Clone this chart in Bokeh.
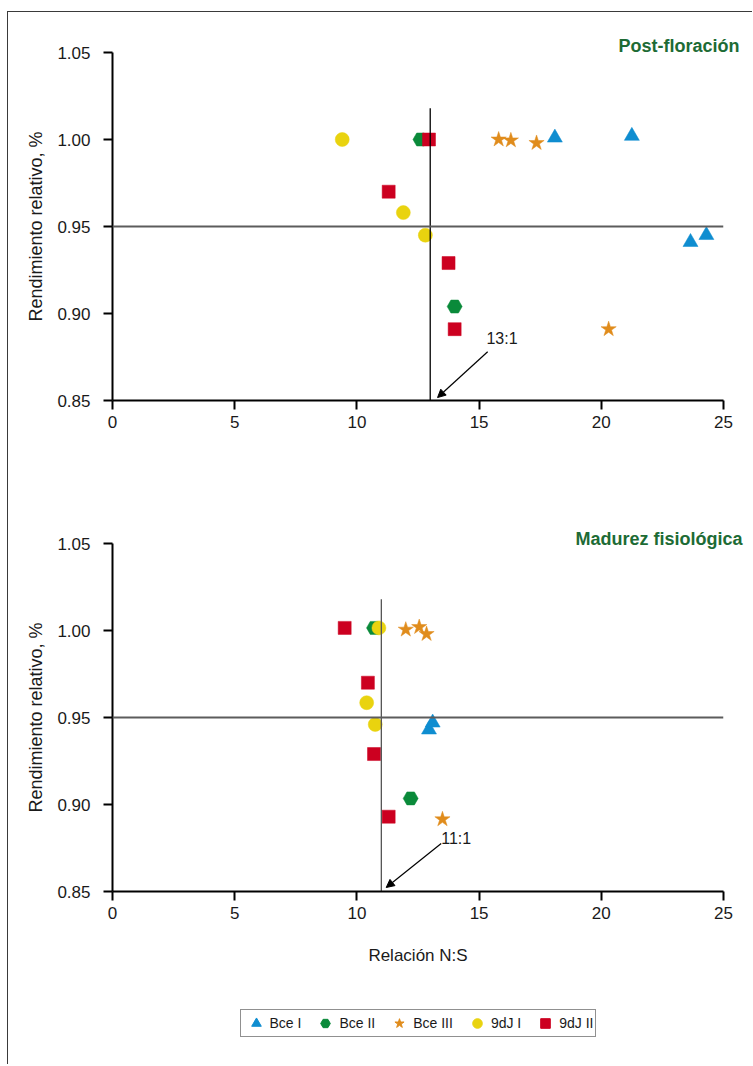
from bokeh.plotting import figure
from bokeh.layouts import column
from bokeh.models import (Span, Label, Arrow, NormalHead, FixedTicker, Legend,
                          LegendItem, PrintfTickFormatter, Range1d, Title)
from bokeh.embed import file_html
from bokeh.resources import INLINE

# ---------------- data ----------------
series_names = ["Bce I", "Bce II", "Bce III", "9dJ I", "9dJ II"]
series_markers = ["triangle", "hex", "star", "circle", "square"]
series_colors = ["#0f8dd0", "#0a8a3a", "#e08c1c", "#e9d30f", "#cc0020"]

# Post-floración
pf_bce1_x = [18.1, 21.25, 23.65, 24.3]
pf_bce1_y = [1.001, 1.002, 0.941, 0.945]
pf_bce2_x = [12.6, 14.0]
pf_bce2_y = [1.000, 0.904]
pf_bce3_x = [15.8, 16.3, 17.35, 20.3]
pf_bce3_y = [1.000, 0.9995, 0.998, 0.891]
pf_9dj1_x = [9.4, 11.9, 12.8]
pf_9dj1_y = [1.000, 0.958, 0.945]
pf_9dj2_x = [12.95, 11.3, 13.75, 14.0]
pf_9dj2_y = [1.000, 0.970, 0.929, 0.891]

# Madurez fisiológica
mf_bce1_x = [12.95, 13.1]
mf_bce1_y = [0.943, 0.947]
mf_bce2_x = [10.7, 12.2]
mf_bce2_y = [1.0015, 0.9035]
mf_bce3_x = [12.0, 12.55, 12.85, 13.5]
mf_bce3_y = [1.0005, 1.002, 0.998, 0.8915]
mf_9dj1_x = [10.9, 10.4, 10.75]
mf_9dj1_y = [1.0015, 0.9585, 0.946]
mf_9dj2_x = [9.5, 10.45, 10.7, 11.3]
mf_9dj2_y = [1.0015, 0.970, 0.929, 0.893]

x_ticks = [0, 5, 10, 15, 20, 25]
y_ticks = [0.85, 0.90, 0.95, 1.00, 1.05]
yield_threshold = 0.95
ratio_thresholds = [13, 11]
ratio_labels = ["13:1", "11:1"]
panel_titles = ["Post-floración", "Madurez fisiológica"]
x_label = "Relación N:S"
y_label = "Rendimiento relativo, %"

FONT = "Liberation Sans"
marker_sizes = {"triangle": 15, "hex": 15, "star": 16, "circle": 14, "square": 13}

pf_data = [(pf_bce1_x, pf_bce1_y), (pf_bce2_x, pf_bce2_y), (pf_bce3_x, pf_bce3_y),
           (pf_9dj1_x, pf_9dj1_y), (pf_9dj2_x, pf_9dj2_y)]
mf_data = [(mf_bce1_x, mf_bce1_y), (mf_bce2_x, mf_bce2_y), (mf_bce3_x, mf_bce3_y),
           (mf_9dj1_x, mf_9dj1_y), (mf_9dj2_x, mf_9dj2_y)]

W = 744
ML = 104              # left border -> frame at page x = 112
FW = 611              # frame width
MR = W - ML - FW


def make_panel(data, title, threshold, ratio_label, height, top, bottom,
               show_xlabel, title_offset, title_standoff, lab_xy, arrow_xy, vline_color):
    p = figure(width=W, height=height, output_backend="svg", toolbar_location=None,
               x_range=Range1d(0, 25), y_range=Range1d(0.85, 1.05),
               min_border_left=ML, min_border_right=MR,
               min_border_top=top, min_border_bottom=bottom)
    p.outline_line_color = None
    p.grid.visible = False
    p.background_fill_color = "white"
    p.border_fill_color = "white"

    p.title = Title(text=title, align="right", offset=title_offset, standoff=title_standoff,
                    text_font=FONT, text_font_size="18px", text_font_style="bold",
                    text_color="#1d6b35")

    for ax in (p.xaxis[0], p.yaxis[0]):
        ax.axis_line_color = "black"
        ax.axis_line_width = 2
        ax.major_tick_line_color = "black"
        ax.major_tick_line_width = 2
        ax.major_tick_out = 9
        ax.major_tick_in = 0
        ax.minor_tick_line_color = None
        ax.major_label_text_font = FONT
        ax.major_label_text_font_size = "17px"
        ax.major_label_text_color = "#1a1a1a"
        ax.axis_label_text_font = FONT
        ax.axis_label_text_font_style = "normal"
        ax.axis_label_text_color = "#1a1a1a"

    p.xaxis.ticker = FixedTicker(ticks=x_ticks)
    p.yaxis.ticker = FixedTicker(ticks=y_ticks)
    p.yaxis.formatter = PrintfTickFormatter(format="%.2f")
    p.xaxis.major_label_standoff = 6
    p.yaxis.major_label_standoff = 13
    p.yaxis.axis_label = y_label
    p.yaxis.axis_label_text_font_size = "18px"
    p.yaxis.axis_label_standoff = 8
    if show_xlabel:
        p.xaxis.axis_label = x_label
        p.xaxis.axis_label_text_font_size = "17px"
        p.xaxis.axis_label_standoff = 24

    p.add_layout(Span(location=yield_threshold, dimension="width",
                      line_color="#5c5c5c", line_width=2))

    renderers = []
    for (xs, ys), name, mk, col in zip(data, series_names, series_markers, series_colors):
        r = p.scatter(xs, ys, marker=mk, size=marker_sizes[mk],
                      fill_color=col, line_color=col, line_width=0.5)
        renderers.append(r)

    p.segment(x0=[threshold], y0=[0.85], x1=[threshold], y1=[1.018],
              line_color=vline_color, line_width=1.3)

    p.add_layout(Arrow(end=NormalHead(size=8, fill_color="black", line_color="black"),
                       x_start=arrow_xy[0], y_start=arrow_xy[1],
                       x_end=arrow_xy[2], y_end=arrow_xy[3],
                       line_color="black", line_width=1.2))
    p.add_layout(Label(x=lab_xy[0], y=lab_xy[1], text=ratio_label,
                       text_font=FONT, text_font_size="16px", text_color="#1a1a1a",
                       text_align="left", text_baseline="middle"))
    return p, renderers


H1, H2, H3 = 466, 512, 74
p1, _ = make_panel(pf_data, panel_titles[0], ratio_thresholds[0], ratio_labels[0],
                   height=H1, top=40, bottom=H1 - 40 - 348, show_xlabel=False,
                   title_offset=-16, title_standoff=-6,
                   lab_xy=(15.3, 0.8856), arrow_xy=(15.35, 0.878, 13.3, 0.8517),
                   vline_color="black")
p2, _ = make_panel(mf_data, panel_titles[1], ratio_thresholds[1], ratio_labels[1],
                   height=H2, top=65, bottom=H2 - 65 - 348, show_xlabel=True,
                   title_offset=-19, title_standoff=-10,
                   lab_xy=(13.45, 0.8805), arrow_xy=(13.45, 0.8776, 11.2, 0.8523),
                   vline_color="#555555")

# legend strip (series drawn out of view; only their legend entries show)
p3 = figure(width=W, height=H3, output_backend="svg", toolbar_location=None,
            x_range=Range1d(0, 25), y_range=Range1d(5, 6),
            min_border_left=ML, min_border_right=MR,
            min_border_top=0, min_border_bottom=8)
p3.axis.visible = False
p3.grid.visible = False
p3.outline_line_color = None
leg_rends = []
for (xs, ys), mk, col in zip(mf_data, series_markers, series_colors):
    leg_rends.append(p3.scatter(xs, ys, marker=mk, size=marker_sizes[mk],
                                fill_color=col, line_color=col))
legend = Legend(items=[LegendItem(label=n, renderers=[r]) for n, r in zip(series_names, leg_rends)],
                orientation="horizontal", location="center",
                border_line_color="#222222", border_line_width=1.5,
                label_text_font=FONT, label_text_font_size="14px",
                label_text_color="#1a1a1a",
                glyph_width=28, glyph_height=24, label_standoff=-2,
                spacing=10, padding=1, margin=0,
                background_fill_color="white")
p3.add_layout(legend, "center")

layout = column(p1, p2, p3, spacing=0,
                styles={"border-left": "1px solid #3a3a3a",
                        "border-top": "1px solid #3a3a3a",
                        "margin-left": "7px", "margin-top": "11px"})

open("out.html", "w").write(file_html(layout, INLINE))
